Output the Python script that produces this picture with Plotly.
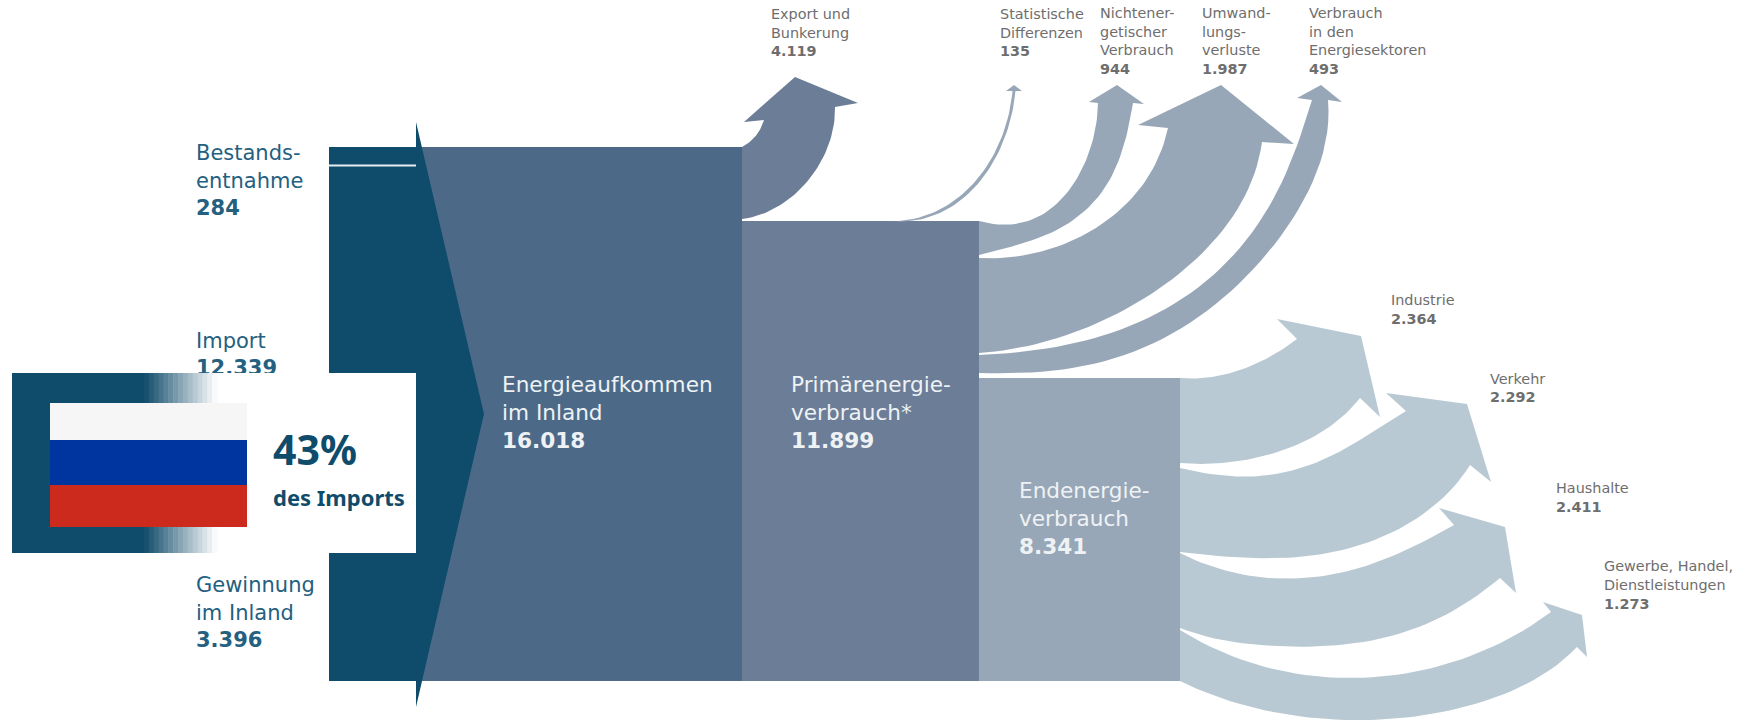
import numpy as np
import plotly.graph_objects as go

# ---------- data (PJ) ----------
source_names = ["Bestands-<br>entnahme", "Import", "Gewinnung<br>im Inland"]
source_values = [284, 12339, 3396]
stage_names = ["Energieaufkommen<br>im Inland", "Primärenergie-<br>verbrauch*", "Endenergie-<br>verbrauch"]
stage_values = [16018, 11899, 8341]
loss_names = ["Export und<br>Bunkerung", "Statistische<br>Differenzen", "Nichtener-<br>getischer<br>Verbrauch",
              "Umwand-<br>lungs-<br>verluste", "Verbrauch<br>in den<br>Energiesektoren"]
loss_values = [4119, 135, 944, 1987, 493]
sector_names = ["Industrie", "Verkehr", "Haushalte", "Gewerbe, Handel,<br>Dienstleistungen"]
sector_values = [2364, 2292, 2411, 1273]
russia_share_pct = 43
russia_share_text = "des Imports"

# ---------- styles ----------
DARK = "#0F4C6B"
BLOCK1 = "#4C6A88"
BLOCK2 = "#6C7D97"
BLOCK3 = "#98A7B7"
LIGHT = "#B9C9D3"
FONT = "DejaVu Sans"


def num(v):
    return f"{v:,}".replace(",", ".")


def smooth(pts, n=48):
    """Smooth low-order curve through the way-points of a drawn band edge."""
    P = np.array(pts, dtype=float)
    if len(P) == 2:
        return [tuple(p) for p in P]
    d = np.r_[0, np.cumsum(np.hypot(*np.diff(P, axis=0).T))]
    u = d / d[-1]
    k = len(P)
    deg = 2 if k == 3 else 3 if k < 6 else 4 if k < 8 else 5
    w = np.ones(k)
    w[0] = w[-1] = 100
    s = np.linspace(0, 1, n)
    x = np.polyval(np.polyfit(u, P[:, 0], deg, w=w), s)
    y = np.polyval(np.polyfit(u, P[:, 1], deg, w=w), s)
    return list(zip(x, y))


fig = go.Figure()


def poly(pts, color):
    xs = [p[0] for p in pts] + [pts[0][0]]
    ys = [p[1] for p in pts] + [pts[0][1]]
    fig.add_trace(go.Scatter(x=xs, y=ys, mode="lines", fill="toself", fillcolor=color,
                             line=dict(width=0, color=color), hoverinfo="skip", showlegend=False))


def rect(x0, y0, x1, y1, color):
    poly([(x0, y0), (x1, y0), (x1, y1), (x0, y1)], color)


def arrow(top, head, bottom, color):
    poly(smooth(top) + head[:-1] + smooth([head[-1]] + bottom), color)


def label(x, y, text, size, color, family=FONT):
    fig.add_trace(go.Scatter(x=[x], y=[y], mode="text", text=[text], textposition="middle right",
                             textfont=dict(family=family, size=size, color=color),
                             hoverinfo="skip", showlegend=False))


X_LEFT, X_NECK, X1, X2, X3 = 329, 416, 742, 979, 1180
Y_BOTTOM = 681

# ---------- stage blocks ----------
rect(X_NECK, 147, X1, Y_BOTTOM, BLOCK1)
poly([(X_LEFT, 147), (X_NECK, 147), (X_NECK, 122), (484, 414), (X_NECK, 707), (X_NECK, Y_BOTTOM), (X_LEFT, Y_BOTTOM)], DARK)
rect(X_LEFT, 164.5, X_NECK, 166.5, "#E8EEF2")
rect(X1, 221, X2, Y_BOTTOM, BLOCK2)
rect(X2, 378, X3, Y_BOTTOM, BLOCK3)

# ---------- upper arrows ----------
arrow([(X1, 147), (752, 140), (764, 120)],
      [(744, 122), (795, 77), (858, 103), (835, 107)],
      [(830, 143), (807, 180), (777, 208), (X1, 219)], BLOCK2)
arrow([(882, 221), (953, 201), (992, 160), (1008, 110), (1012.5, 91)],
      [(1006, 91), (1014, 85), (1022, 91), (1015.5, 91)],
      [(1011, 111), (995, 161), (955, 204), (888, 221)], BLOCK3)
arrow([(X2, 221), (1053, 207), (1083, 167), (1098, 103)],
      [(1089, 102), (1117, 85), (1144, 104), (1133, 103)],
      [(1125, 140), (1110, 180), (1073, 220), (1033, 240), (X2, 255)], BLOCK3)
arrow([(X2, 258), (1050, 248), (1100, 227), (1143, 183), (1168, 128)],
      [(1138, 125), (1221, 85), (1294, 144), (1262, 142)],
      [(1247, 190), (1210, 247), (1160, 287), (1100, 322), (1033, 345), (X2, 353)], BLOCK3)
arrow([(X2, 355), (1030, 351), (1067, 345), (1133, 324), (1200, 287), (1260, 220), (1293, 157), (1312, 100)],
      [(1297, 98), (1321, 85), (1342, 102), (1328, 100)],
      [(1322, 157), (1300, 207), (1267, 253), (1217, 303), (1167, 337), (1100, 362), (1060, 370), (1033, 372), (1000, 373.5), (X2, 373)], BLOCK3)

# ---------- lower arrows ----------
arrow([(X3, 378), (1207, 378), (1244, 368), (1274, 355), (1297, 339)],
      [(1277, 319), (1361, 336), (1380, 417), (1360, 398)],
      [(1329, 427), (1292, 447), (1244, 460), (1207, 464), (X3, 463)], LIGHT)
arrow([(X3, 468), (1207, 473), (1244, 477), (1300, 468), (1355, 443), (1406, 411)],
      [(1386, 393), (1467, 404), (1491, 482), (1470, 465)],
      [(1429, 510), (1381, 537), (1318, 555), (1263, 558), (1207, 555), (X3, 552)], LIGHT)
arrow([(X3, 553), (1207, 565), (1263, 577), (1318, 577), (1374, 563), (1454, 525)],
      [(1439, 508), (1505, 527), (1516, 593), (1500, 578)],
      [(1466, 603), (1411, 630), (1355, 643), (1300, 647), (1244, 643), (1207, 637), (X3, 628)], LIGHT)
arrow([(X3, 630), (1226, 653), (1281, 672), (1348, 677), (1411, 673), (1485, 650), (1551, 612)],
      [(1543, 602), (1582, 615), (1587, 657), (1577, 647)],
      [(1540, 677), (1485, 700), (1429, 715), (1374, 720), (1318, 718), (1263, 710), (1207, 693), (X3, Y_BOTTOM)], LIGHT)

# ---------- source labels (under the overlay box) ----------
SRC_C = "#24607F"
for name, val, (x, y), in zip(source_names, source_values, [(196, 182.5), (196, 356), (196, 614.5)]):
    label(x, y, f"{name}<br><b>{num(val)}</b>", 21, SRC_C)

# ---------- Russia overlay ----------
rect(216, 373, X_NECK, 553, "#FFFFFF")
rect(12, 373, 144, 553, DARK)
BANDS = 15
for i in range(BANDS):
    f = (i + 0.5) / BANDS
    r, g, b = [int(c0 + (255 - c0) * f) for c0 in (0x0F, 0x4C, 0x6B)]
    x0 = 144 + i * 73 / BANDS
    rect(x0, 373, x0 + 73 / BANDS + 0.5, 553, f"rgb({r},{g},{b})")
rect(50, 403, 247, 440, "#F6F6F6")
rect(50, 440, 247, 485, "#0035A0")
rect(50, 485, 247, 527, "#CC2A1C")
label(273, 455, f"<b>{russia_share_pct}%</b>", 41, DARK, "Noto Sans")
label(273, 500, f"<b>{russia_share_text}</b>", 22, DARK, "Noto Sans")

# ---------- stage labels ----------
for name, val, (x, y) in zip(stage_names, stage_values, [(502, 415), (791, 415), (1019, 521)]):
    label(x, y, f"{name}<br><b>{num(val)}</b>", 21.6, "#EEF2F5")

# ---------- outflow labels ----------
OUT_C = "#6E6E6E"
for name, val, (x, y) in zip(loss_names, loss_values,
                             [(771, 34), (1000, 34), (1100, 42.5), (1202, 42.5), (1309, 42.5)]):
    label(x, y, f"{name}<br><b>{num(val)}</b>", 14.4, OUT_C)
for name, val, (x, y) in zip(sector_names, sector_values,
                             [(1391, 311), (1490, 389.5), (1556, 499), (1604, 586.5)]):
    label(x, y, f"{name}<br><b>{num(val)}</b>", 14.4, OUT_C)

fig.update_layout(width=1747, height=721, margin=dict(l=0, r=0, t=0, b=0),
                  paper_bgcolor="white", plot_bgcolor="white", showlegend=False,
                  xaxis=dict(range=[0, 1747], visible=False, fixedrange=True),
                  yaxis=dict(range=[721, 0], visible=False, fixedrange=True))
fig.write_html("out.html", post_script="document.body.style.margin='0';document.body.style.overflow='hidden';",
               config=dict(displayModeBar=False))
